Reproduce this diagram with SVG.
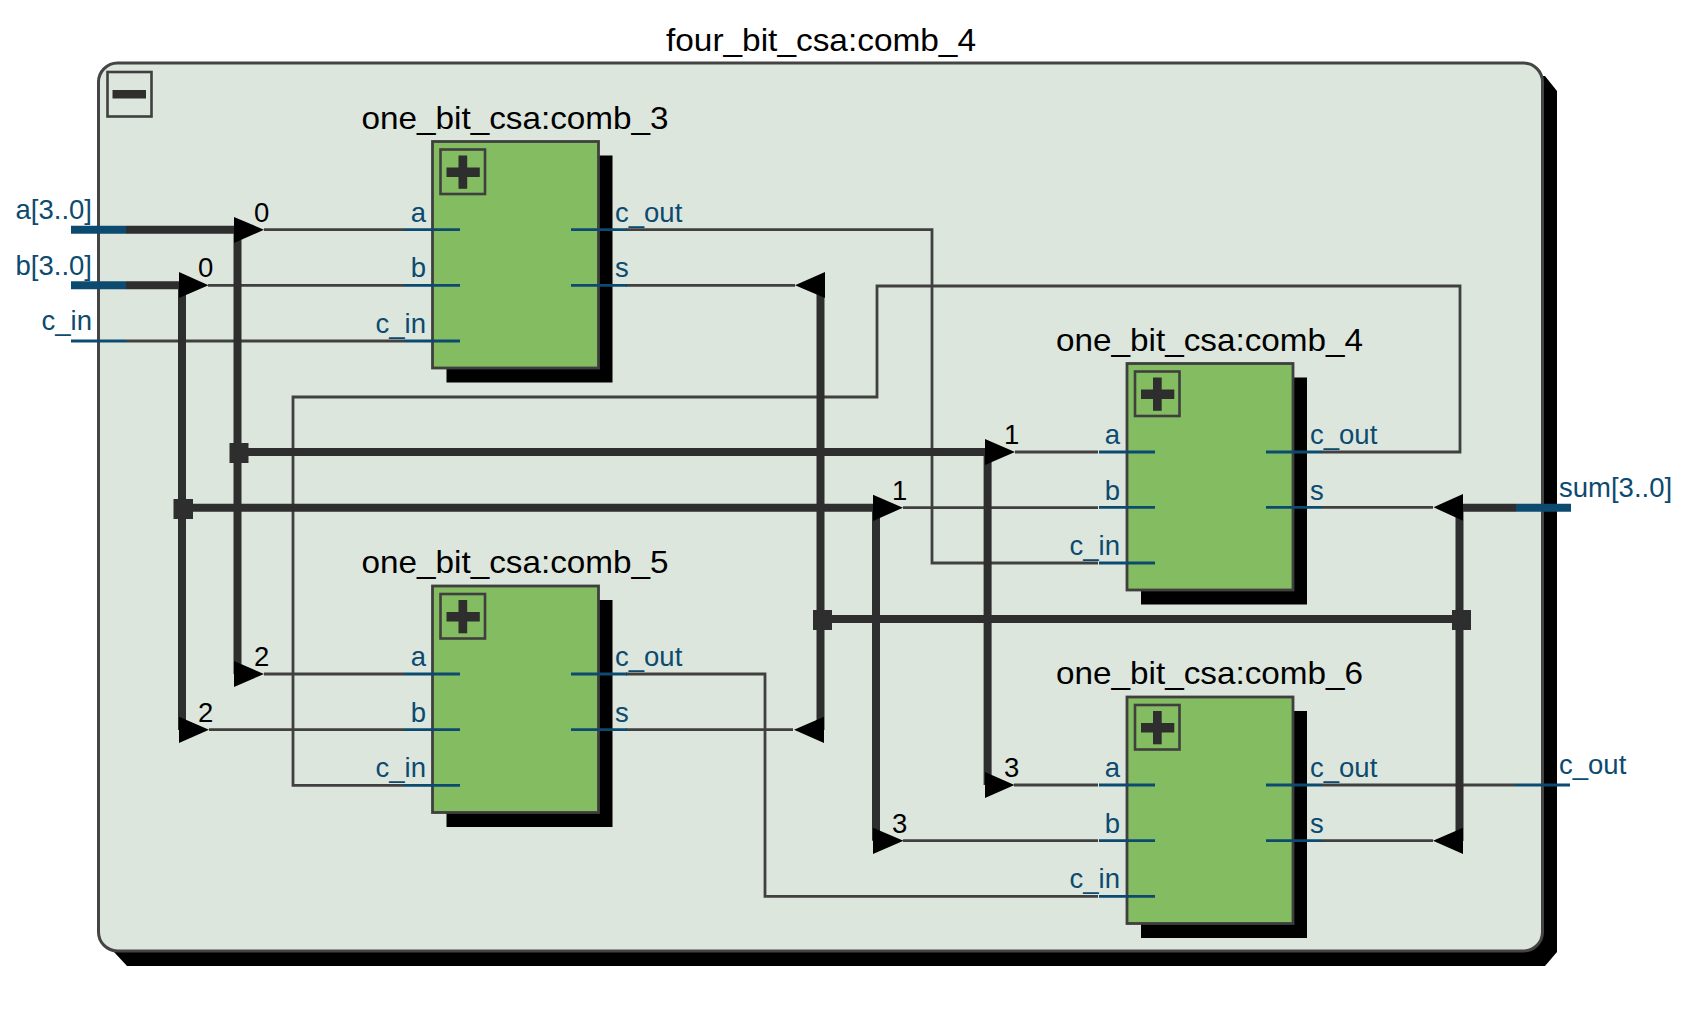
<svg xmlns="http://www.w3.org/2000/svg" width="1690" height="1016" viewBox="0 0 1690 1016">
<style>
text{font-family:"Liberation Sans",Arial,sans-serif}
.t{font-size:32px;fill:#000}
.n{font-size:27.5px;fill:#000}
.p{font-size:27.5px;fill:#0c4a70}
.r{text-anchor:end}
.w{fill:none;stroke:#404040;stroke-width:2.8}
.b{fill:none;stroke:#2e2e2e;stroke-width:8}
.j{fill:#2e2e2e}
.tr{fill:#000}
.s{stroke:#0c4a70;stroke-width:2.8;fill:none}
.sb{stroke:#0c4a70;stroke-width:8;fill:none}
.sh{fill:#000}
.box{fill:#84bc62;stroke:#3f3f3f;stroke-width:2.8}
.btn{fill:none;stroke:#3f3f3f;stroke-width:2.6}
.ic{fill:#2e2e2e}
</style>
<defs>
<g id="node">
<rect class="sh" x="14" y="14" width="166" height="227"/>
<rect class="box" width="166" height="226.500"/>
<rect class="btn" x="8" y="8" width="44.500" height="44.500"/>
<rect class="ic" x="14" y="26" width="33.300" height="9.500"/>
<rect class="ic" x="26" y="14" width="8.700" height="33.300"/>
</g>
</defs>
<g id="frame">
<path class="sh" d="M1530 76H1545L1557 91V952L1545 966H127L114 952V900H1530Z"/>
<rect x="98.500" y="63" width="1444" height="888" rx="19" fill="#dde6dd" stroke="#444" stroke-width="3"/>
<rect class="btn" x="107.500" y="72" width="44" height="44.500"/>
<rect class="ic" x="112.500" y="90" width="33.500" height="8.500"/>
<text class="t" x="821" y="51" text-anchor="middle" textLength="310" lengthAdjust="spacingAndGlyphs">four_bit_csa:comb_4</text>
</g>
<g id="connectors">
<path class="w" d="M264 229.700H404M208 285.300H404M126 341H404M626 229.700H932V563H1098M626 285.300H795M1322 452H1460V286H877V397H293V785.300H404M1015 452H1098M903 507.700H1098M264 674H404M209 729.700H404M626 674H765V896.300H1098M626 729.700H793M1014 785H1098M903 840.700H1098M1322 507.300H1433M1322 785H1515M1322 840.700H1433"/>
<path class="b" d="M126 229.700H234M237.500 229V674M126 285.300H180M182 285V730M238 452H985M182 507.700H873M987.600 452V785M876 507.700V840.700M820.500 285V730M820.500 619H1460M1459.500 507.300V841M1463 507.700H1516"/>
<rect class="j" x="229.500" y="443" width="19" height="20"/>
<rect class="j" x="173.500" y="499" width="19.500" height="20"/>
<rect class="j" x="813" y="610" width="19" height="20"/>
<rect class="j" x="1452" y="610" width="19" height="20"/>
<path class="tr" d="M234 217L264 229.700L234 243ZM179 272L208.500 285.300L179 298ZM985 439L1015 452L985 465ZM873 494.700L903 507.700L873 521ZM234 661L264 674L234 687ZM179 716.700L209 729.700L179 743ZM985 772L1014.500 785L985 798ZM873 827.700L903.500 840.700L873 854ZM825 272L795 285.300L825 298ZM824 716.700L794 729.700L824 743ZM1463 494L1433.500 507.300L1463 520.700ZM1463 827.700L1433 840.700L1463 854Z"/>
<g id="bit-labels">
<text class="n" x="254" y="222">0</text><text class="n" x="198" y="277">0</text>
<text class="n" x="1004" y="444">1</text><text class="n" x="892" y="499.500">1</text>
<text class="n" x="254" y="666">2</text><text class="n" x="198" y="722">2</text>
<text class="n" x="1004" y="777">3</text><text class="n" x="892" y="832.500">3</text>
</g>
</g>
<g id="port-a"><path class="sb" d="M71 229.700H126"/><text class="p r" x="92" y="219">a[3..0]</text></g>
<g id="port-b"><path class="sb" d="M71 285.300H126"/><text class="p r" x="92" y="275">b[3..0]</text></g>
<g id="port-c_in"><path class="s" d="M71 341H126"/><text class="p r" x="92" y="330">c_in</text></g>
<g id="port-sum"><path class="sb" d="M1516 507.700H1571"/><text class="p" x="1559" y="497">sum[3..0]</text></g>
<g id="port-c_out"><path class="s" d="M1515 785H1570"/><text class="p" x="1559" y="774">c_out</text></g>
<g id="comb_3"><use href="#node" x="432.500" y="141.500"/>
<text class="t" x="515" y="129" text-anchor="middle" textLength="307" lengthAdjust="spacingAndGlyphs">one_bit_csa:comb_3</text>
<path class="s" d="M404 229.700H460M404 285.300H460M404 341H460M571 229.700H627M571 285.300H627"/>
<text class="p r" x="426" y="222">a</text><text class="p r" x="426" y="277">b</text><text class="p r" x="426" y="333">c_in</text>
<text class="p" x="615" y="222">c_out</text><text class="p" x="615" y="277">s</text></g>
<g id="comb_4"><use href="#node" x="1127" y="363.500"/>
<text class="t" x="1209.500" y="351" text-anchor="middle" textLength="307" lengthAdjust="spacingAndGlyphs">one_bit_csa:comb_4</text>
<path class="s" d="M1099 452H1155M1099 507.300H1155M1099 563H1155M1266 452H1322M1266 507.300H1322"/>
<text class="p r" x="1120" y="444">a</text><text class="p r" x="1120" y="500">b</text><text class="p r" x="1120" y="555">c_in</text>
<text class="p" x="1310" y="444">c_out</text><text class="p" x="1310" y="500">s</text></g>
<g id="comb_5"><use href="#node" x="432.500" y="586"/>
<text class="t" x="515" y="573" text-anchor="middle" textLength="307" lengthAdjust="spacingAndGlyphs">one_bit_csa:comb_5</text>
<path class="s" d="M404 674H460M404 729.700H460M404 785.300H460M571 674H627M571 729.700H627"/>
<text class="p r" x="426" y="666">a</text><text class="p r" x="426" y="722">b</text><text class="p r" x="426" y="777">c_in</text>
<text class="p" x="615" y="666">c_out</text><text class="p" x="615" y="722">s</text></g>
<g id="comb_6"><use href="#node" x="1127" y="697"/>
<text class="t" x="1209.500" y="683.500" text-anchor="middle" textLength="307" lengthAdjust="spacingAndGlyphs">one_bit_csa:comb_6</text>
<path class="s" d="M1099 785H1155M1099 840.700H1155M1099 896.300H1155M1266 785H1322M1266 840.700H1322"/>
<text class="p r" x="1120" y="777">a</text><text class="p r" x="1120" y="833">b</text><text class="p r" x="1120" y="888">c_in</text>
<text class="p" x="1310" y="777">c_out</text><text class="p" x="1310" y="833">s</text></g>
</svg>
